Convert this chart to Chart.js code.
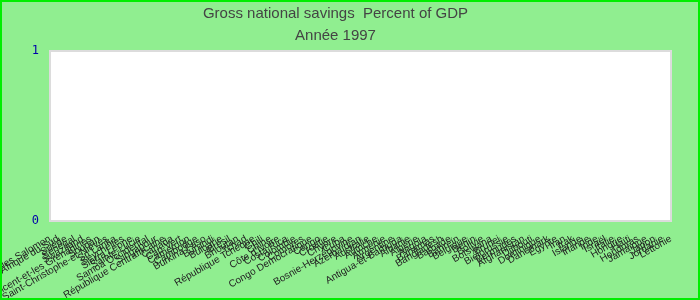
<!DOCTYPE html>
<html>
<head>
<meta charset="utf-8">
<script src="https://cdn.jsdelivr.net/npm/chart.js@4"></script>
<style>
  body { margin: 0; }
  #savingsChart { display: block; background: #90EE90; }
</style>
</head>
<body>
<canvas id="savingsChart" width="700" height="300"></canvas>
<script>
const countries = [
    'Îles Salomon', 'Afrique du Sud', 'Suède', 'Sénégal', 'Swaziland',
    'Saint-Vincent-et-les Grenadines', 'Soudan', 'Saint-Christophe-et-Niévès', 'Sri Lanka', 'Seychelles',
    'Sierra Leone', 'Sainte-Lucie', 'Samoa Occidental', 'Singapour', 'République Centrafricaine',
    'Canada', 'Cap-Vert', 'Cameroun', 'Cambodge', 'Burkina Faso',
    'Burundi', 'Bulgarie', 'Brésil', 'Bhoutan', 'Tchad',
    'République Tchèque', 'Chili', 'Chine', 'Côte d\'Ivoire', 'Costa Rica',
    'Colombie', 'Comores', 'Congo Democratique', 'Congo', 'Croatie',
    'Chypre', 'Cuba', 'Bosnie-Herzégovine', 'Azerbaïdjan', 'Australie',
    'Autriche', 'Arménie', 'Argentine', 'Antigua-et-Barbuda', 'Albanie',
    'Algérie', 'Angola', 'Bahamas', 'Bangladesh', 'Barbade',
    'Bahreïn', 'Belgique', 'Bénin', 'Bolivie', 'Botswana',
    'Brunei', 'Biélorussie', 'Bermudes', 'Afghanistan', 'Djibouti',
    'Dominique', 'Danemark', 'Égypte', 'Iran', 'Irak',
    'Islande', 'Irlande', 'Inde', 'Israël', 'Italie',
    'Hongrie', 'Haïti', 'Honduras', 'Jamaïque', 'Japon',
    'Jordanie', 'Lettonie'
];

// no value reported for 1997
const savings = [];

const yTicks = [0, 1];

const plotBackground = {
    id: 'plotBackground',
    beforeDatasetsDraw(chart) {
        const { ctx, chartArea: a } = chart;
        ctx.save();
        ctx.fillStyle = '#ffffff';
        ctx.fillRect(a.left, a.top, a.right - a.left, a.bottom - a.top);
        ctx.strokeStyle = '#dcdcdc';
        ctx.lineWidth = 2;
        ctx.strokeRect(a.left, a.top, a.right - a.left, a.bottom - a.top);
        ctx.restore();
    },
    afterDraw(chart) {
        const ctx = chart.ctx;
        ctx.save();
        ctx.strokeStyle = '#00ee00';
        ctx.lineWidth = 2;
        ctx.strokeRect(1, 1, chart.width - 2, chart.height - 2);
        ctx.restore();
    }
};

const config = {
    type: 'bar',
    data: {
        labels: countries,
        datasets: [{
            label: 'Gross national savings',
            backgroundColor: '#3366cc',
            data: savings,
        }]
    },
    options: {
        responsive: false,
        animation: false,
        layout: { padding: { left: 0, right: 29, top: 0, bottom: 0 } },
        plugins: {
            legend: { display: false },
            tooltip: { enabled: false },
            title: {
                display: true,
                text: 'Gross national savings  Percent of GDP',
                color: '#444',
                font: { family: 'Liberation Sans', size: 15, weight: 'normal' },
                padding: { top: 5, bottom: 2 }
            },
            subtitle: {
                display: true,
                text: 'Année 1997',
                color: '#444',
                font: { family: 'Liberation Sans', size: 15 },
                padding: { top: 2, bottom: 6 }
            }
        },
        scales: {
            x: {
                offset: false,
                grid: { display: false, drawTicks: false, offset: false },
                border: { display: false },
                ticks: {
                    autoSkip: false,
                    minRotation: 30,
                    maxRotation: 30,
                    padding: 12,
                    color: '#222',
                    font: { family: 'Liberation Sans', size: 10 }
                },
                afterFit(scale) {
                    scale.paddingLeft = 0;
                    scale.paddingRight = 0;
                    scale.height = 79;
                }
            },
            y: {
                min: yTicks[0],
                max: yTicks[yTicks.length - 1],
                grid: { display: false, drawTicks: false },
                border: { display: false },
                afterBuildTicks(scale) {
                    scale.ticks = yTicks.map(v => ({ value: v }));
                },
                ticks: {
                    padding: 11,
                    color: '#0000aa',
                    font: { family: 'DejaVu Sans Mono', size: 12 }
                },
                afterFit(scale) {
                    scale.width = 50;
                }
            }
        }
    },
    plugins: [plotBackground]
};

const savingsChart = new Chart(
    document.getElementById('savingsChart'),
    config
);
</script>
</body>
</html>
